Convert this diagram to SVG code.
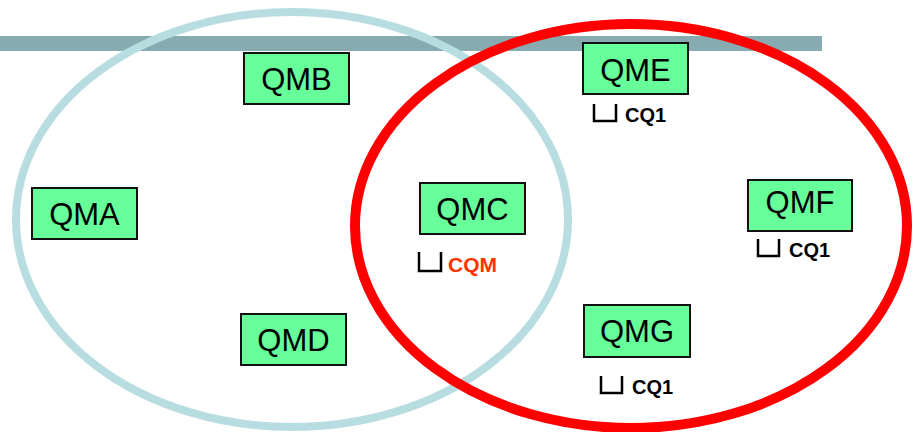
<svg xmlns="http://www.w3.org/2000/svg" width="912" height="432" viewBox="0 0 912 432">
<style>
.box{fill:#66FF99;stroke:#111;stroke-width:2}
.lbl{font-family:"Liberation Sans",Arial,sans-serif;font-size:31px;fill:#000;text-anchor:middle}
.q{fill:none;stroke:#000;stroke-width:2.5}
.ql{font-family:"Liberation Sans",Arial,sans-serif;font-size:20px;font-weight:bold;fill:#000}
</style>
<rect width="912" height="432" fill="#fff"/>
<rect x="0" y="36" width="822" height="15" fill="#87ABB1"/>
<g id="clusters">
<ellipse cx="292" cy="219.5" rx="276" ry="207.5" fill="none" stroke="#B8DDE0" stroke-width="8"/>
<ellipse cx="631" cy="226" rx="276" ry="202" fill="none" stroke="#FF0000" stroke-width="10"/>
</g>
<g id="QMA"><rect class="box" x="32" y="188" width="105" height="51"/><text class="lbl" x="84.5" y="225">QMA</text></g>
<g id="QMB"><rect class="box" x="244" y="53" width="105" height="51"/><text class="lbl" x="296.5" y="90">QMB</text></g>
<g id="QMC"><rect class="box" x="420" y="183" width="105" height="51"/><text class="lbl" x="472.5" y="220">QMC</text>
<path class="q" d="M419 252V271H441V252"/><text class="ql" x="448" y="272" style="fill:#FF3300;font-size:21px">CQM</text></g>
<g id="QMD"><rect class="box" x="241" y="314" width="105" height="51"/><text class="lbl" x="293.5" y="351">QMD</text></g>
<g id="QME"><rect class="box" x="583" y="43" width="105" height="51"/><text class="lbl" x="635.5" y="81">QME</text>
<path class="q" d="M594 104V121H616V104"/><text class="ql" x="625" y="122">CQ1</text></g>
<g id="QMF"><rect class="box" x="748" y="180" width="104" height="51"/><text class="lbl" x="800" y="213">QMF</text>
<path class="q" d="M758 239V256H779V239"/><text class="ql" x="789" y="257">CQ1</text></g>
<g id="QMG"><rect class="box" x="584" y="305" width="106" height="52"/><text class="lbl" x="637" y="342">QMG</text>
<path class="q" d="M601 376V393H622V376"/><text class="ql" x="632" y="394">CQ1</text></g>
<g id="connectors"></g>
</svg>
